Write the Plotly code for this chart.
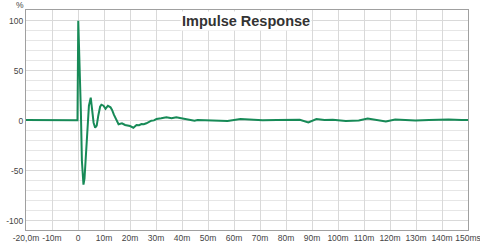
import plotly.graph_objects as go

time_ms = [-20, -15, -10, -5, -2, -0.2, 0.1, 0.6, 1.1, 1.5, 1.8, 2.1, 2.5, 3.0, 3.6, 4.2, 4.9, 5.4,
           6.0, 6.6, 7.2, 7.8, 8.5, 9.0, 9.8, 10.6, 11.5, 12.5, 13.1, 13.8, 14.4, 15.0, 15.6,
           16.9, 18.1, 20.0, 21.3, 22.5, 23.5, 24.4, 25.3, 26.3, 27.2, 28.2, 29.2, 30.2, 32.0,
           34.0, 36.0, 37.8, 39.7, 42.2, 44.8, 46.0, 50.0, 54.0, 57.5, 62.5, 66.6, 71.0, 76.5,
           81.0, 85.3, 88.6, 91.7, 94.8, 98.0, 103.0, 108.0, 111.4, 114.5, 118.4, 122.0,
           126.0, 129.8, 135.0, 142.5, 147.5, 150.0]
response_pct = [0.8, 0.6, 0.7, 0.5, 0.6, 0.5, 100, 60, 10, -40, -58, -64, -58, -35, -5, 15, 23, 12,
                -2, -7, -5, 5, 14, 16, 15, 12, 15, 13.4, 10.7, 6, 2.4, -1, -3.6,
                -2.6, -4.3, -5.3, -7, -4.3, -4.5, -3.3, -3.6, -2.6, -1.5, 0, 0.3, 1.7, 2.4,
                3.4, 2.4, 3.4, 2.4, 1.4, 0, 0.7, 0.3, -0.2, -0.3, 1.7, 1.0, 0.4, 0.7,
                0.5, 1.0, -1.7, 1.7, 0.7, 1.0, -0.3, 0.3, 2.3, 1.3, -0.7, 1.3,
                0.6, 0.3, 0.8, 1.3, 0.7, 0.6]

x_tick_vals = [-20, -10, 0, 10, 20, 30, 40, 50, 60, 70, 80, 90, 100, 110, 120, 130, 140, 150]
x_tick_text = ["-20,0m", "-10m", "0", "10m", "20m", "30m", "40m", "50m", "60m", "70m", "80m",
               "90m", "100m", "110m", "120m", "130m", "140m", "150ms"]
y_tick_vals = [-100, -50, 0, 50, 100]
y_tick_text = ["-100", "-50", "0", "50", "100"]

L, R, T, B = 26, 12, 10, 15
W, H = 480, 245
plot_w = W - L - R
plot_h = H - T - B

fig = go.Figure()
fig.add_trace(go.Scatter(x=time_ms, y=response_pct, mode="lines",
                         line=dict(color="#178a57", width=2), hoverinfo="skip"))

fig.update_layout(
    width=W, height=H,
    margin=dict(l=L, r=R, t=T, b=B, autoexpand=False),
    paper_bgcolor="white", plot_bgcolor="white",
    showlegend=False,
    font=dict(family="Liberation Sans, Arial, sans-serif", size=9, color="#444444"),
    xaxis=dict(range=[-20, 150], tickvals=x_tick_vals, ticktext=x_tick_text,
               showgrid=True, gridcolor="#d9d9d9", gridwidth=1, zeroline=False,
               showline=True, linecolor="#a0a0a0", linewidth=1, mirror=True,
               ticks="", tickangle=0, automargin=False, ticklabeloverflow="allow",
               tickfont=dict(size=8.5)),
    yaxis=dict(range=[-109.3, 110.7], tickvals=y_tick_vals, ticktext=y_tick_text,
               showgrid=True, gridcolor="#d9d9d9", gridwidth=1, zeroline=False,
               showline=True, linecolor="#a0a0a0", linewidth=1, mirror=True,
               ticks="", automargin=False, tickfont=dict(size=8.5),
               minor=dict(dtick=10, showgrid=True, gridcolor="#e6e6e6", gridwidth=1)),
    annotations=[
        dict(text="<b>Impulse Response</b>", x=(246 - L) / plot_w, y=(H - B - 20.5) / plot_h,
             xref="paper", yref="paper", yanchor="middle", xanchor="center", showarrow=False,
             font=dict(size=14.5, color="#333333", family="Liberation Sans, Arial, sans-serif"),
             bgcolor="white"),
        dict(text="%", x=(20 - L) / plot_w, y=(H - B - 5) / plot_h, xref="paper", yref="paper",
             xanchor="center", yanchor="middle", showarrow=False,
             font=dict(size=8.5, color="#444444"))
    ],
)

fig.write_html("out.html")
